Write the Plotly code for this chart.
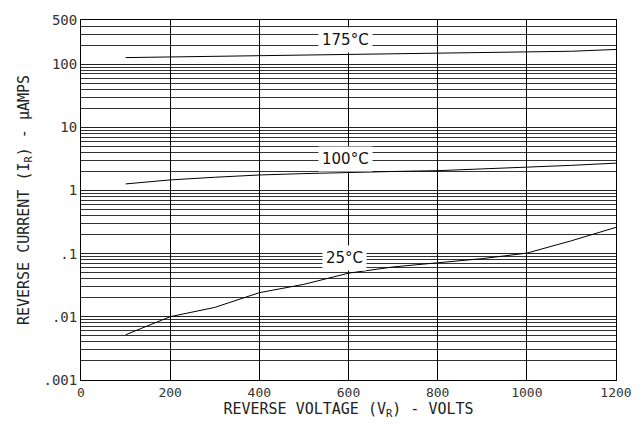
import numpy as np
import plotly.graph_objects as go

# Data
voltage = [100, 200, 300, 400, 500, 600, 700, 800, 900, 1000, 1100, 1200]
i_175 = [127, 130, 133, 137, 140, 143, 147, 151, 152, 154, 160, 171]
i_100 = [1.27, 1.47, 1.62, 1.76, 1.85, 1.94, 2.0, 2.06, 2.18, 2.32, 2.5, 2.71]
i_25 = [0.00519, 0.01005, 0.0141, 0.0241, 0.0327, 0.0491, 0.0616, 0.0711, 0.0834, 0.102, 0.160, 0.261]

series_labels = ["175°C", "100°C", "25°C"]
label_x = [593, 593, 590]
label_y = [243, 3.13, 0.0851]

x_ticks = [0, 200, 400, 600, 800, 1000, 1200]
y_major = [0.001, 0.01, 0.1, 1, 10, 100, 500]
y_major_text = [".001", ".01", ".1", "1", "10", "100", "500"]

# minor grid values: 2..9 in each decade up to 500
y_minor = []
for e in range(-3, 3):
    for m in range(2, 10):
        v = m * 10.0 ** e
        if v < 500 * 0.999:
            y_minor.append(v)

fig = go.Figure()
for ys in [i_175, i_100, i_25]:
    fig.add_trace(go.Scatter(x=voltage, y=ys, mode="lines",
                             line=dict(color="black", width=1), showlegend=False,
                             hoverinfo="skip"))

for t, lx, ly in zip(series_labels, label_x, label_y):
    fig.add_annotation(x=lx, y=np.log10(ly), text=t, showarrow=False,
                       bgcolor="white", borderpad=3,
                       font=dict(family="DejaVu Sans", size=15, color="#111"))

fig.update_layout(
    width=644, height=428,
    margin=dict(l=81, r=28, t=16, b=48),
    plot_bgcolor="white", paper_bgcolor="white",
    xaxis=dict(range=[0, 1200], tickvals=x_ticks, ticktext=[str(v) for v in x_ticks],
               showgrid=True, gridcolor="black", gridwidth=1,
               showline=True, linecolor="black", linewidth=1, mirror=True,
               ticks="", zeroline=False,
               tickfont=dict(family="DejaVu Sans Mono", size=13, color="#333"),
               title=dict(text="REVERSE VOLTAGE (V<sub>R</sub>) - VOLTS", standoff=2,
                          font=dict(family="DejaVu Sans Mono", size=15, color="#222"))),
    yaxis=dict(type="log", range=[-3, np.log10(500)], tickvals=y_major, ticktext=y_major_text,
               showgrid=True, gridcolor="#222", gridwidth=1,
               minor=dict(tickvals=y_minor, showgrid=True, gridcolor="#333", gridwidth=1, ticks=""),
               showline=True, linecolor="black", linewidth=1, mirror=True,
               ticks="", zeroline=False,
               tickfont=dict(family="DejaVu Sans Mono", size=14, color="#333"),
               title=dict(text="REVERSE CURRENT (I<sub>R</sub>) - μAMPS", standoff=10,
                          font=dict(family="DejaVu Sans Mono", size=15, color="#222"))),
)

fig.write_html("out.html")
